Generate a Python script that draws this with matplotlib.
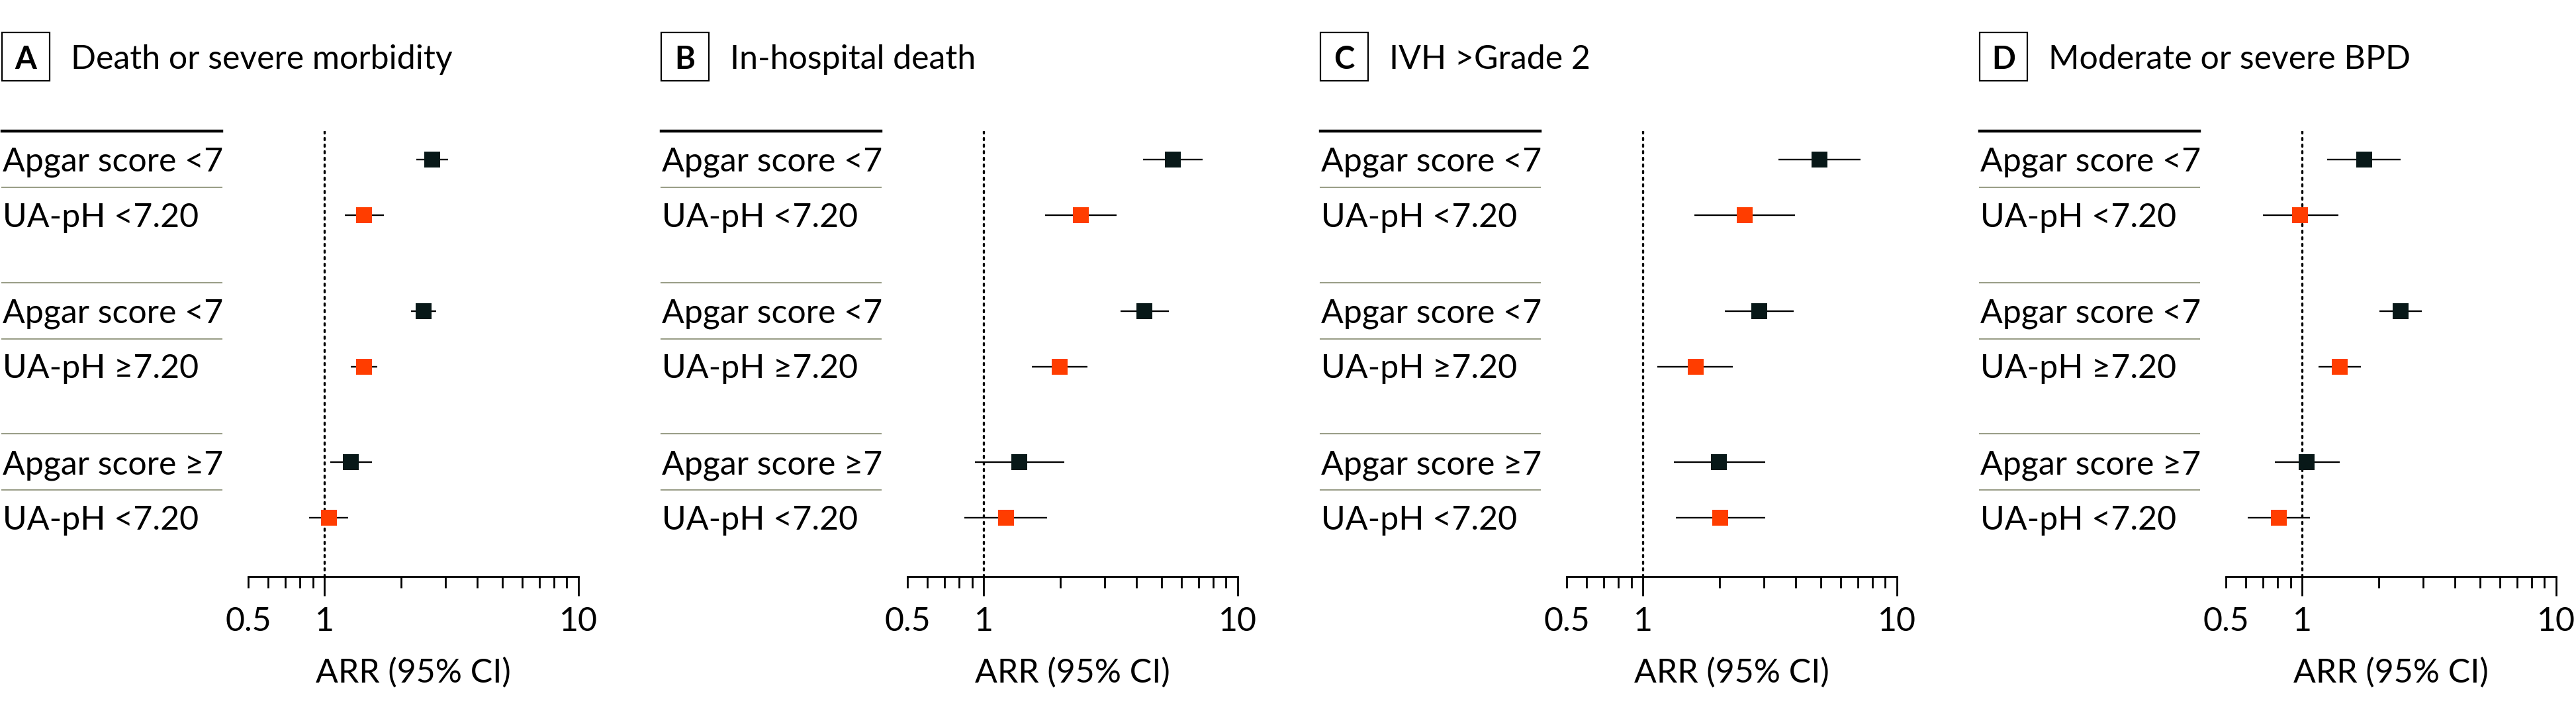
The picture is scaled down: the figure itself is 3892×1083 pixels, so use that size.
import matplotlib
matplotlib.use("Agg")
import matplotlib.pyplot as plt
from matplotlib.lines import Line2D
from matplotlib.patches import Rectangle
from matplotlib.ticker import FixedLocator, FuncFormatter

plt.rcParams["font.family"] = ["Lato", "DejaVu Sans"]

# ---- data ----
panel_letters = ["A", "B", "C", "D"]
panel_titles = ["Death or severe morbidity", "In-hospital death",
                "IVH >Grade 2", "Moderate or severe BPD"]
row_labels = ["Apgar score <7", "UA-pH <7.20",
              "Apgar score <7", "UA-pH \u22657.20",
              "Apgar score \u22657", "UA-pH <7.20"]

arr_a = [2.66, 1.43, 2.46, 1.43, 1.27, 1.04]
lo_a = [2.30, 1.20, 2.19, 1.27, 1.05, 0.87]
hi_a = [3.07, 1.71, 2.75, 1.61, 1.54, 1.24]

arr_b = [5.55, 2.41, 4.30, 1.99, 1.38, 1.22]
lo_b = [4.23, 1.74, 3.46, 1.55, 0.92, 0.84]
hi_b = [7.27, 3.34, 5.36, 2.56, 2.07, 1.77]

arr_c = [4.95, 2.51, 2.87, 1.61, 1.99, 2.01]
lo_c = [3.42, 1.59, 2.10, 1.14, 1.32, 1.35]
hi_c = [7.20, 3.97, 3.91, 2.26, 3.03, 3.03]

arr_d = [1.75, 0.98, 2.44, 1.40, 1.04, 0.81]
lo_d = [1.25, 0.70, 2.01, 1.16, 0.78, 0.61]
hi_d = [2.44, 1.39, 2.96, 1.70, 1.40, 1.07]

panel_data = [(arr_a, lo_a, hi_a), (arr_b, lo_b, hi_b),
              (arr_c, lo_c, hi_c), (arr_d, lo_d, hi_d)]

x_ticks_major = [1, 10]
x_ticks_minor = [0.5, 0.6, 0.7, 0.8, 0.9, 2, 3, 4, 5, 6, 7, 8, 9]
x_label = "ARR (95% CI)"

# ---- layout (pixels of the 3892x1083 canvas) ----
W, H = 3892, 1083
DPI = 100
PANEL_STEP = 996
AX_LEFT, AX_W = 375, 499
AX_TOP, AX_BOT = 198, 871
ROW0, PAIR_GAP, GROUP_GAP = 241, 84, 228.5
LABEL_X0, LABEL_X1 = 3, 335
FS = 36

DARK = "#081818"
ORANGE = "#FF3D00"
GRAY = "#9a9e88"

row_y = [ROW0 + (i // 2) * GROUP_GAP + (i % 2) * PAIR_GAP for i in range(6)]


def fx(x):
    return x / W


def fy(y):
    return 1 - y / H


fig = plt.figure(figsize=(W / DPI, H / DPI), dpi=DPI)

for p in range(4):
    off = p * PANEL_STEP
    arr, lo, hi = panel_data[p]

    # header: boxed letter + title
    fig.add_artist(Rectangle((fx(off + 3), fy(122)), 72 / W, 73 / H,
                             transform=fig.transFigure, fill=False,
                             lw=1.6, ec="black"))
    fig.text(fx(off + 39), fy(104), panel_letters[p], ha="center",
             va="baseline", fontsize=FS - 2, fontweight="bold")
    fig.text(fx(off + 107), fy(104), panel_titles[p], ha="left",
             va="baseline", fontsize=FS)

    # row labels + separator lines
    for i, lab in enumerate(row_labels):
        fig.text(fx(off + LABEL_X0 + 1), fy(row_y[i] + 18), lab,
                 ha="left", va="baseline", fontsize=FS)
        if i % 2 == 0:
            ly = row_y[i] - 43
            col, lw = ("black", 3.2) if i == 0 else (GRAY, 1.5)
        else:
            ly = (row_y[i] + row_y[i - 1]) / 2
            col, lw = GRAY, 1.5
        fig.add_artist(Line2D([fx(off + LABEL_X0), fx(off + LABEL_X1)],
                              [fy(ly), fy(ly)], transform=fig.transFigure,
                              color=col, lw=lw))

    # forest axes
    ax = fig.add_axes([fx(off + AX_LEFT), fy(AX_BOT), AX_W / W,
                       (AX_BOT - AX_TOP) / H])
    ax.set_xscale("log")
    ax.set_xlim(0.5, 10)
    ax.set_ylim(AX_BOT, AX_TOP)
    for s in ["top", "left", "right"]:
        ax.spines[s].set_visible(False)
    ax.spines["bottom"].set_linewidth(2.0)
    ax.patch.set_alpha(0)
    ax.set_yticks([])

    ax.axvline(1, color="black", lw=2.4, ls=(0, (0.9, 2.1)),
               dash_capstyle="round", zorder=1)

    for i in range(6):
        c = DARK if i % 2 == 0 else ORANGE
        ax.plot([lo[i], hi[i]], [row_y[i], row_y[i]], color="black",
                lw=1.7, zorder=2, solid_capstyle="butt")
        ax.plot(arr[i], row_y[i], marker="s", ms=17.3, color=c,
                mec=c, mew=0, zorder=3)

    ax.xaxis.set_major_locator(FixedLocator(x_ticks_major))
    ax.xaxis.set_minor_locator(FixedLocator(x_ticks_minor))
    ax.xaxis.set_major_formatter(FuncFormatter(lambda v, _: f"{v:g}"))
    ax.xaxis.set_minor_formatter(
        FuncFormatter(lambda v, _: "0.5" if abs(v - 0.5) < 1e-9 else ""))
    ax.tick_params(axis="x", which="major", length=20.6, width=2.0,
                   labelsize=FS, pad=12)
    ax.tick_params(axis="x", which="minor", length=11.9, width=2.0,
                   labelsize=FS, pad=20.7)
    ax.set_xlabel(x_label, fontsize=FS, labelpad=22)

fig.savefig("out.png", dpi=DPI, facecolor="white")
